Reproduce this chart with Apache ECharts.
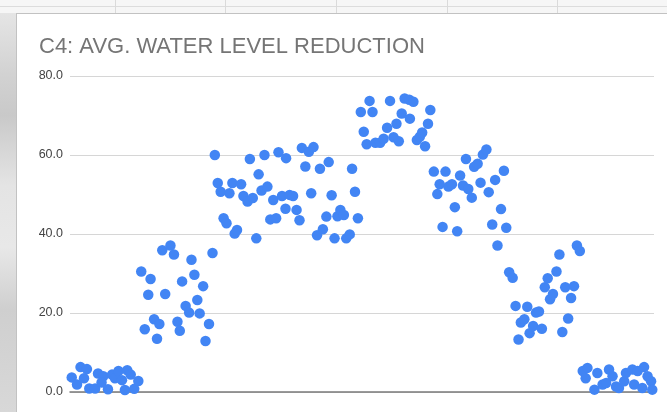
<!DOCTYPE html>
<html>
<head>
<meta charset="utf-8">
<script src="https://cdn.jsdelivr.net/npm/echarts@6/dist/echarts.min.js"></script>
<style>
  html, body { margin: 0; padding: 0; }
  body {
    width: 667px; height: 412px; overflow: hidden; position: relative;
    background: #f4f4f4;
  }
  /* sheet grid peeking out behind the chart card */
  #sheet {
    position: absolute; left: 0; top: 0; width: 667px; height: 412px;
    background:
      linear-gradient(to bottom, #f6f6f6 0, #f6f6f6 6px, #dcdcdc 6px, #dcdcdc 7px, #f6f6f6 7px) top left / 667px 13px no-repeat,
      linear-gradient(to bottom, #e9e9e9 0%, #d2d2d2 18%, #c9c9c9 28%, #e4e4e4 45%, #e8e8e8 60%, #cfcfcf 75%, #d8d8d8 100%) left top / 16px 412px no-repeat;
  }
  .col { position: absolute; top: 0; height: 13px; width: 1px; background: #dadada; }
  #card {
    position: absolute; left: 16px; top: 13px; width: 651px; height: 399px;
    background: #ffffff;
    border-left: 1px solid #c2c2c2; border-top: 1px solid #c2c2c2;
  }
  #chart { position: absolute; left: 0; top: 0; width: 651px; height: 399px; }
</style>
</head>
<body>
<div id="sheet">
  <div class="col" style="left:115px"></div>
  <div class="col" style="left:225px"></div>
  <div class="col" style="left:336px"></div>
  <div class="col" style="left:447px"></div>
  <div class="col" style="left:557px"></div>
</div>
<div id="card"><div id="chart"></div></div>
<script>
// Average water level reduction readings, grouped by stage: [position, reduction]
const stage1 = [
  [0.3, 3.7], [1.2, 1.9], [1.8, 6.3], [2.4, 3.5], [2.9, 5.8], [3.3, 0.9], [4.3, 0.9],
  [4.8, 4.7], [5.7, 4.0], [5.4, 2.4], [6.5, 0.7], [7.2, 4.4], [7.7, 3.5], [8.3, 5.3],
  [8.9, 3.0], [9.4, 0.5], [9.8, 5.5], [10.4, 4.4], [11.0, 0.8], [11.7, 2.8]
];
const stage2 = [
  [15.8, 35.9], [17.2, 37.1], [17.8, 34.8], [20.8, 33.5], [24.4, 35.2], [12.2, 30.5],
  [13.8, 28.6], [19.2, 28.0], [21.3, 29.7], [22.8, 26.8], [13.4, 24.6], [16.3, 24.8],
  [21.8, 23.3], [19.8, 21.8], [20.4, 20.1], [22.2, 19.9], [14.4, 18.4], [15.3, 17.2],
  [12.8, 15.9], [14.9, 13.5], [18.4, 17.8], [18.8, 15.5], [23.8, 17.2], [23.2, 12.9]
];
const stage3 = [
  [24.8, 60.0], [25.3, 52.9], [25.8, 50.7], [26.3, 44.0], [26.8, 42.7], [27.3, 50.3],
  [27.8, 52.9], [28.2, 40.1], [28.6, 41.0], [29.3, 52.6], [29.7, 49.6], [30.4, 48.2],
  [30.8, 59.0], [31.3, 49.1], [31.9, 38.9], [32.3, 55.1], [32.8, 51.0], [33.3, 60.0],
  [33.8, 52.0], [34.3, 43.7], [34.8, 48.6], [35.3, 44.0], [35.7, 60.7], [36.3, 49.6],
  [36.9, 46.4], [37.0, 59.2], [37.6, 49.9], [38.2, 49.6], [38.8, 46.1], [39.3, 43.5],
  [39.7, 61.8], [40.3, 57.1], [40.9, 60.8], [41.3, 50.3], [41.7, 62.0], [42.3, 39.7],
  [42.8, 56.5], [43.3, 41.2], [43.9, 44.4], [44.3, 58.2], [44.8, 49.8], [45.3, 38.9],
  [45.8, 44.5], [46.3, 46.1], [46.9, 44.8], [47.3, 38.9], [47.9, 39.9], [48.3, 56.5],
  [48.8, 50.7], [49.3, 44.0]
];
const stage4 = [
  [49.8, 70.9], [50.3, 65.9], [50.8, 62.7], [51.3, 73.7], [51.8, 70.9], [52.3, 63.1],
  [53.1, 63.1], [53.7, 64.1], [54.3, 66.9], [54.8, 73.7], [55.4, 64.5], [55.9, 67.9],
  [56.3, 63.5], [56.8, 70.5], [57.3, 74.3], [58.1, 74.0], [58.2, 69.2], [58.8, 73.5],
  [59.4, 63.8], [59.9, 64.6], [60.3, 65.7], [60.8, 62.2], [61.3, 67.9], [61.7, 71.4]
];
const stage5 = [
  [62.3, 55.8], [62.9, 50.1], [63.3, 52.6], [63.8, 41.8], [64.3, 55.8], [64.8, 52.0],
  [65.4, 52.6], [65.9, 46.8], [66.3, 40.7], [66.8, 54.8], [67.3, 52.3], [67.8, 59.0],
  [68.2, 51.4], [68.8, 49.2], [69.2, 57.0], [69.8, 57.8], [70.3, 53.0], [70.7, 60.1],
  [71.3, 61.4], [71.7, 50.6], [72.3, 42.4], [72.8, 53.7], [73.2, 37.1], [73.8, 46.3],
  [74.3, 56.0], [74.7, 41.6]
];
const stage6 = [
  [75.2, 30.3], [75.8, 28.9], [76.3, 21.8], [76.8, 13.3], [77.2, 17.6], [77.8, 18.4],
  [78.3, 21.6], [78.7, 14.9], [79.3, 16.7], [79.8, 20.1], [80.3, 20.4], [80.8, 16.0],
  [81.3, 26.5], [81.8, 28.8], [82.2, 23.5], [82.7, 24.8], [83.3, 30.5], [83.8, 34.8],
  [84.3, 15.2], [84.8, 26.5], [85.3, 18.6], [85.8, 23.8], [86.3, 26.8], [86.8, 37.1],
  [87.3, 35.7]
];
const stage7 = [
  [87.8, 5.3], [88.3, 3.5], [88.6, 6.1], [89.8, 0.6], [90.3, 4.8], [91.2, 1.9],
  [91.8, 2.3], [92.3, 5.7], [92.9, 4.0], [93.5, 1.4], [94.0, 1.0], [94.9, 2.7],
  [95.2, 4.8], [96.3, 5.7], [96.6, 1.9], [97.2, 5.3], [98.0, 1.0], [98.3, 6.3],
  [98.9, 4.0], [99.5, 2.7], [99.7, 0.6]
];

const titleText = 'C4: AVG. WATER LEVEL REDUCTION';
const yTicks = { min: 0, max: 80, step: 20 };

const readings = [].concat(stage1, stage2, stage3, stage4, stage5, stage6, stage7);

const chart = echarts.init(document.getElementById('chart'), null, { renderer: 'canvas' });
chart.setOption({
  animation: false,
  backgroundColor: 'transparent',
  title: {
    text: titleText,
    left: 17,
    top: 17,
    textStyle: {
      fontFamily: '"Liberation Sans", Arial, sans-serif',
      fontWeight: 'normal',
      fontSize: 22,
      color: '#757575'
    }
  },
  grid: { left: 53, right: 14, top: 62, bottom: 21, containLabel: false },
  xAxis: {
    type: 'value',
    min: 0,
    max: 100,
    axisLabel: { show: false },
    axisTick: { show: false },
    splitLine: { show: false },
    axisLine: { show: true, onZero: true, lineStyle: { color: '#7a7a7a', width: 1.5 } }
  },
  yAxis: {
    type: 'value',
    min: yTicks.min,
    max: yTicks.max,
    interval: yTicks.step,
    axisLine: { show: false },
    axisTick: { show: false },
    axisLabel: {
      margin: 7,
      fontFamily: '"Liberation Sans", Arial, sans-serif',
      fontSize: 12.5,
      color: '#444444',
      formatter: v => v.toFixed(1)
    },
    splitLine: { lineStyle: { color: '#d6d6d6', width: 1 } }
  },
  series: [{
    type: 'scatter',
    data: readings,
    symbol: 'circle',
    symbolSize: 10.5,
    itemStyle: { color: '#4285F4', opacity: 1 }
  }]
});
</script>
</body>
</html>
